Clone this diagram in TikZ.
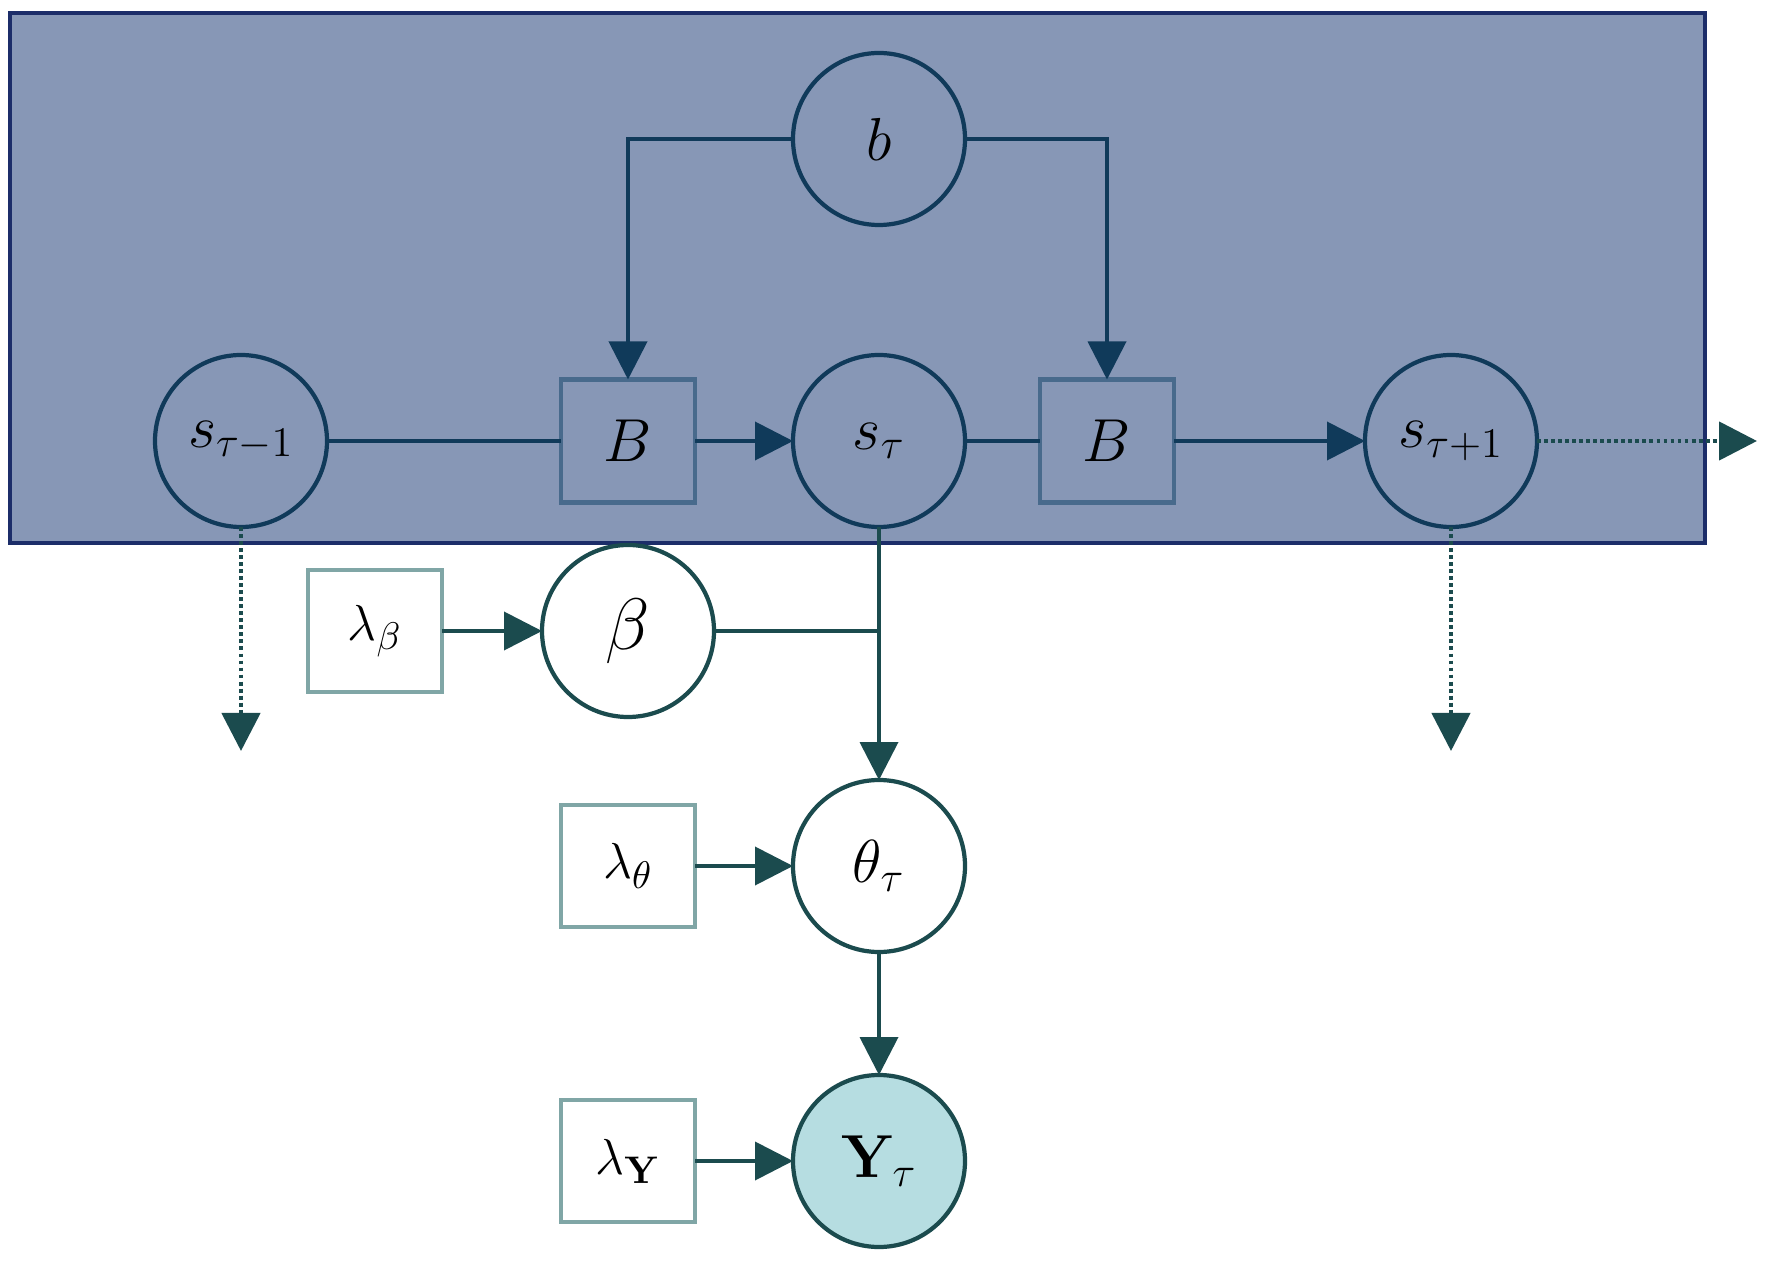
\documentclass[tikz,border=0pt]{standalone}
\usetikzlibrary{arrows.meta}
\definecolor{platefill}{RGB}{135,151,182}
\definecolor{plateedge}{RGB}{28,45,105}
\definecolor{navy}{RGB}{16,58,90}
\definecolor{factoredge}{RGB}{72,106,140}
\definecolor{tealdark}{RGB}{27,75,78}
\definecolor{tealbox}{RGB}{128,166,166}
\definecolor{obsfill}{RGB}{182,221,225}

\begin{document}
\begin{tikzpicture}[scale=1,inner sep=0pt,outer sep=0pt,line width=1pt,
>={Triangle[length=0.38cm,width=0.38cm]},
latent/.style={draw=navy,circle,minimum size=1.72cm,line width=1.2pt,font=\fontsize{17}{20}\selectfont},
factor/.style={draw=factoredge,rectangle,minimum width=1.34cm,minimum height=1.23cm,line width=1.4pt,font=\fontsize{17}{20}\selectfont},
lower/.style={latent,draw=tealdark,fill=white},
hyper/.style={draw=tealbox,fill=white,rectangle,minimum width=1.34cm,minimum height=1.22cm,line width=1.4pt,font=\fontsize{15}{18}\selectfont},
link/.style={draw=navy,line width=1.1pt},
link2/.style={draw=tealdark,line width=1.1pt},
dots/.style={draw=tealdark,line width=1.3pt,dash pattern=on 1.1pt off 0.9pt}]

\useasboundingbox (0,0) rectangle (17.72,-12.62);
\draw[draw=plateedge,fill=platefill,line width=1pt] (0.10,-0.13) rectangle (17.05,-5.43);

% time slice
\draw (8.79,-1.39) node[latent] (b) {$b$};
\draw (2.41,-4.41) node[latent] (sprev) {$s_{\tau-1}$};
\draw (6.28,-4.41) node[factor] (B1) {$B$};
\draw (8.79,-4.41) node[latent] (snow) {$s_{\tau}$};
\draw (11.07,-4.41) node[factor] (B2) {$B$};
\draw (14.51,-4.41) node[latent] (snext) {$s_{\tau+1}$};

\coordinate (nextT) at (17.57,-4.41);
\coordinate (prevdown) at (2.41,-7.51);
\coordinate (nextdown) at (14.51,-7.51);

% observation part
\draw (6.28,-6.31) node[lower,font=\fontsize{21}{24}\selectfont] (beta) {$\beta$};
\draw (3.75,-6.31) node[hyper] (lbeta) {$\lambda_{\beta}$};
\draw (8.79,-8.66) node[lower] (theta) {$\theta_{\tau}$};
\draw (6.28,-8.66) node[hyper] (ltheta) {$\lambda_{\theta}$};
\draw (8.79,-11.61) node[lower,fill=obsfill] (Y) {$\mathbf{Y}_{\tau}$};
\draw (6.28,-11.61) node[hyper] (lY) {$\lambda_{\mathbf{Y}}$};

\draw[link] (sprev) -- (B1);
\draw[link,->] (B1) -- (snow);
\draw[link] (snow) -- (B2);
\draw[link,->] (B2) -- (snext);
\draw[link,->] (b.west) -| (B1.north);
\draw[link,->] (b.east) -| (B2.north);
\draw[dots,->] (snext) -- (nextT);
\draw[dots,->] (sprev) -- (prevdown);
\draw[dots,->] (snext) -- (nextdown);

\draw[link2,->] (snow) -- (theta);
\draw[link2] (beta.east) -- (beta.east -| snow.south);
\draw[link2,->] (lbeta) -- (beta);
\draw[link2,->] (ltheta) -- (theta);
\draw[link2,->] (theta) -- (Y);
\draw[link2,->] (lY) -- (Y);
\end{tikzpicture}
\end{document}
